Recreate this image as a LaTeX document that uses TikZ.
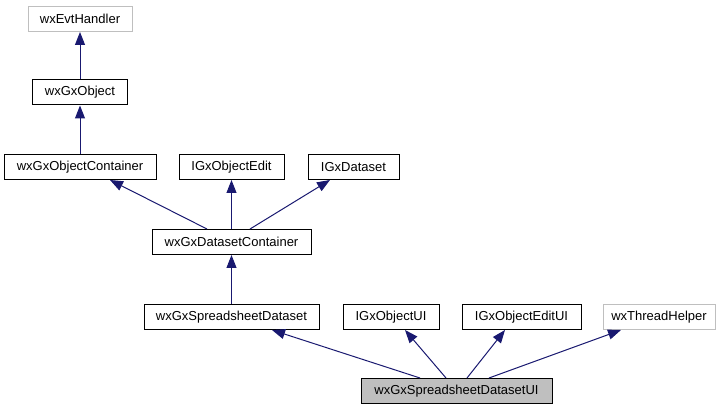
\documentclass[tikz,border=0pt]{standalone}
\usepackage{fontspec}
\setmainfont{Liberation Sans}
\usetikzlibrary{arrows.meta}
\definecolor{edgeblue}{RGB}{25,25,112}
\definecolor{extgray}{RGB}{191,191,191}

\begin{document}
\begin{tikzpicture}[x=1pt,y=-1pt,
        cls/.style={shape=rectangle,draw=black,fill=white,line width=1pt,minimum height=25pt,inner sep=0pt,font=\fontsize{13}{15}\selectfont},
        extcls/.style={cls,draw=extgray},
        curcls/.style={cls,fill=extgray},
        inh/.style={color=edgeblue,line width=1pt,-{Triangle[length=13pt,width=10pt]}}]
            \useasboundingbox (0,0) rectangle (727,411);

            % classes
            \node[extcls,minimum width=104pt] (evt) at (80,19) {wxEvtHandler};
            \node[cls,minimum width=95pt] (obj) at (80,92.5) {wxGxObject};
            \node[cls,minimum width=152pt] (oc) at (80,167) {wxGxObjectContainer};
            \node[cls,minimum width=105pt] (oe) at (231.5,167) {IGxObjectEdit};
            \node[cls,minimum width=91pt] (ids) at (353.5,167) {IGxDataset};
            \node[cls,minimum width=159pt] (dc) at (231.5,242) {wxGxDatasetContainer};
            \node[cls,minimum width=175pt] (sd) at (231.5,317) {wxGxSpreadsheetDataset};
            \node[cls,minimum width=96pt] (oui) at (391,317) {IGxObjectUI};
            \node[cls,minimum width=119pt] (oeui) at (521.5,317) {IGxObjectEditUI};
            \node[extcls,minimum width=112pt] (th) at (659,317) {wxThreadHelper};
            \node[curcls,minimum width=191pt] (ui) at (456.5,391) {wxGxSpreadsheetDatasetUI};

            % inheritance
            \path [inh] (obj) edge (evt);
            \path [inh] (oc) edge (obj);
            \path [inh] ([xshift=-24.5pt]dc.north) edge ([xshift=30pt]oc.south);
            \path [inh] (dc) edge (oe);
            \path [inh] ([xshift=18.5pt]dc.north) edge ([xshift=-23.5pt]ids.south);
            \path [inh] (sd) edge (dc);
            \path [inh] ([xshift=-36.5pt]ui.north) edge ([xshift=40.5pt]sd.south);
            \path [inh] ([xshift=-10.5pt]ui.north) edge ([xshift=14pt]oui.south);
            \path [inh] ([xshift=10.5pt]ui.north) edge ([xshift=-16.5pt]oeui.south);
            \path [inh] ([xshift=32.5pt]ui.north) edge ([xshift=-38pt]th.south);
        \end{tikzpicture}
\end{document}
